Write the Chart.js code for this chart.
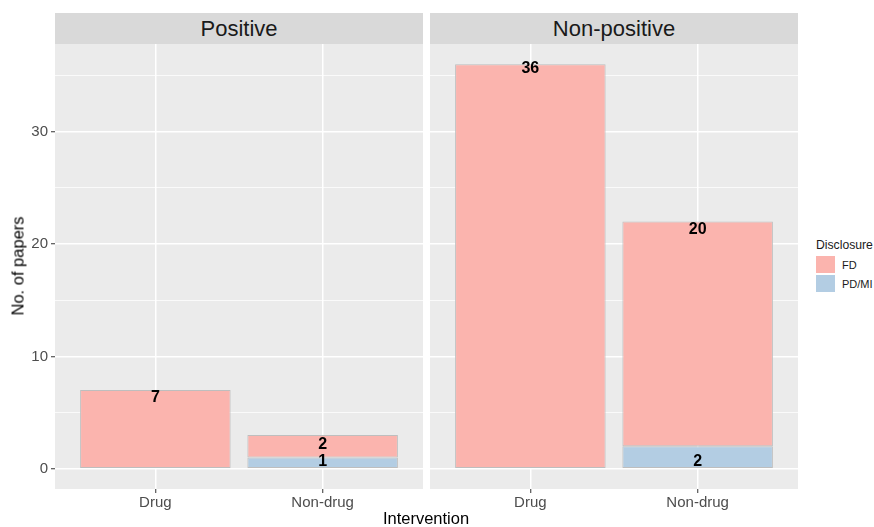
<!DOCTYPE html>
<html><head><meta charset="utf-8">
<script src="https://cdn.jsdelivr.net/npm/chart.js@4.4.1/dist/chart.umd.min.js"></script>
<style>
body{margin:0;background:#fff;width:874px;height:527px;overflow:hidden;position:relative;font-family:"Liberation Sans",Arial,sans-serif;}
.strip{position:absolute;top:13px;height:31px;background:#D9D9D9;color:#1A1A1A;font-size:22px;text-align:center;line-height:31px;}
canvas{position:absolute;top:0;}
#ytitle{position:absolute;left:18px;top:266px;transform:translate(-50%,-50%) rotate(-90deg);font-size:16.5px;color:#000;white-space:nowrap;}
#xtitle{position:absolute;left:426px;top:518px;transform:translate(-50%,-50%);font-size:16.5px;color:#000;white-space:nowrap;}
#legend{position:absolute;left:816px;top:238px;font-size:11px;color:#1A1A1A;white-space:nowrap;width:58px;}
#legend .ttl{font-size:12.2px;margin-bottom:3px;white-space:nowrap;}
#legend .row{display:flex;align-items:center;height:19px;}
#legend .key{width:19px;height:17px;margin-right:7px;flex:none;}
</style></head><body>
<div class="strip" style="left:55px;width:368px">Positive</div>
<div class="strip" style="left:430px;width:368px">Non-positive</div>
<canvas id="c1" width="423" height="527" style="left:0"></canvas>
<canvas id="c2" width="368" height="527" style="left:430px"></canvas>
<div id="ytitle">No. of papers</div>
<div id="xtitle">Intervention</div>
<div id="legend"><div class="ttl">Disclosure</div><div id="legrows"></div></div>
<script>
// ---- data ----
const categories = ['Drug', 'Non-drug'];
const panels = ['Positive', 'Non-positive'];
const seriesNames = ['FD', 'PD/MI'];
const seriesColors = ['#FBB4AE', '#B3CDE3'];
const positiveFD = [7, 2];
const positivePD = [0, 1];
const nonPositiveFD = [36, 20];
const nonPositivePD = [0, 2];
// label centre positions (in data units)
const positiveFDLabelY = [6.35, 2.15];
const positivePDLabelY = [null, 0.6];
const nonPositiveFDLabelY = [35.6, 21.3];
const nonPositivePDLabelY = [null, 0.6];
const yTicks = [0, 10, 20, 30];
const yMinor = [5, 15, 25, 35];

const FONT = '"Liberation Sans", Arial, sans-serif';

// legend
const legRows = document.getElementById('legrows');
seriesNames.forEach((n, i) => {
  const r = document.createElement('div'); r.className = 'row';
  const k = document.createElement('div'); k.className = 'key'; k.style.background = seriesColors[i];
  const t = document.createElement('span'); t.textContent = n;
  r.appendChild(k); r.appendChild(t); legRows.appendChild(r);
});

const bgPlugin = {
  id: 'panelBg',
  beforeDraw(chart) {
    const {ctx, chartArea: a} = chart;
    ctx.save(); ctx.fillStyle = '#EBEBEB';
    ctx.fillRect(a.left, a.top, a.right - a.left, a.bottom - a.top);
    ctx.restore();
  }
};
const labelPlugin = {
  id: 'valueLabels',
  afterDatasetsDraw(chart) {
    const ctx = chart.ctx, ys = chart.scales.y;
    chart.data.datasets.forEach((ds, di) => {
      const meta = chart.getDatasetMeta(di);
      meta.data.forEach((el, i) => {
        const v = ds.data[i].y;
        if (!v) return;
        ctx.save();
        ctx.font = 'bold 16px ' + FONT;
        ctx.fillStyle = '#000';
        ctx.textAlign = 'center'; ctx.textBaseline = 'middle';
        ctx.fillText(String(v), el.x, ys.getPixelForValue(ds.labelY[i]));
        ctx.restore();
      });
    });
  }
};

function makeChart(id, fd, pd, fdLab, pdLab, showY) {
  const allY = yTicks.concat(yMinor).sort((a, b) => a - b);
  return new Chart(document.getElementById(id), {
    type: 'bar',
    data: {
      datasets: [
        {label: seriesNames[1], data: categories.map((c, i) => ({x: i + 1, y: pd[i]})), labelY: pdLab,
         backgroundColor: seriesColors[1], borderColor: '#BEBEBE', borderWidth: 1, borderSkipped: false,
         categoryPercentage: 0.9, barPercentage: 1},
        {label: seriesNames[0], data: categories.map((c, i) => ({x: i + 1, y: fd[i]})), labelY: fdLab,
         backgroundColor: seriesColors[0], borderColor: '#BEBEBE', borderWidth: 1, borderSkipped: false,
         categoryPercentage: 0.9, barPercentage: 1}
      ]
    },
    options: {
      responsive: false, animation: false, devicePixelRatio: 1,
      layout: {padding: {top: 44, left: 0, right: 0, bottom: 0}},
      plugins: {legend: {display: false}, tooltip: {enabled: false}},
      scales: {
        x: {
          type: 'linear', min: 0.4, max: 2.6, stacked: true, offset: false,
          afterBuildTicks: s => { s.ticks = categories.map((c, i) => ({value: i + 1})); },
          ticks: {callback: v => categories[Math.round(v) - 1], color: '#4D4D4D', font: {size: 15, family: FONT},
                  padding: 1, autoSkip: false, maxRotation: 0},
          grid: {offset: false, color: '#FFFFFF', lineWidth: 1.5, drawTicks: true, tickLength: 4, tickColor: '#333333', tickWidth: 1},
          border: {display: false},
          afterFit: s => { s.height = 38; }
        },
        y: {
          type: 'linear', min: -1.8, max: 37.8, stacked: true,
          afterBuildTicks: s => { s.ticks = allY.map(v => ({value: v})); },
          ticks: {display: showY, callback: v => (yTicks.includes(v) ? String(v) : ''), color: '#4D4D4D',
                  font: {size: 15, family: FONT}, padding: 3, autoSkip: false},
          grid: {offset: false, color: '#FFFFFF', lineWidth: c => (yTicks.includes(c.tick.value) ? 1.5 : 0.75),
                 drawTicks: showY, tickLength: 4,
                 tickColor: c => (yTicks.includes(c.tick.value) ? '#333333' : 'rgba(0,0,0,0)'), tickWidth: 1},
          border: {display: false},
          afterFit: s => { s.width = showY ? 55 : 0; }
        }
      }
    },
    plugins: [bgPlugin, labelPlugin]
  });
}

makeChart('c1', positiveFD, positivePD, positiveFDLabelY, positivePDLabelY, true);
makeChart('c2', nonPositiveFD, nonPositivePD, nonPositiveFDLabelY, nonPositivePDLabelY, false);
</script>
</body></html>
